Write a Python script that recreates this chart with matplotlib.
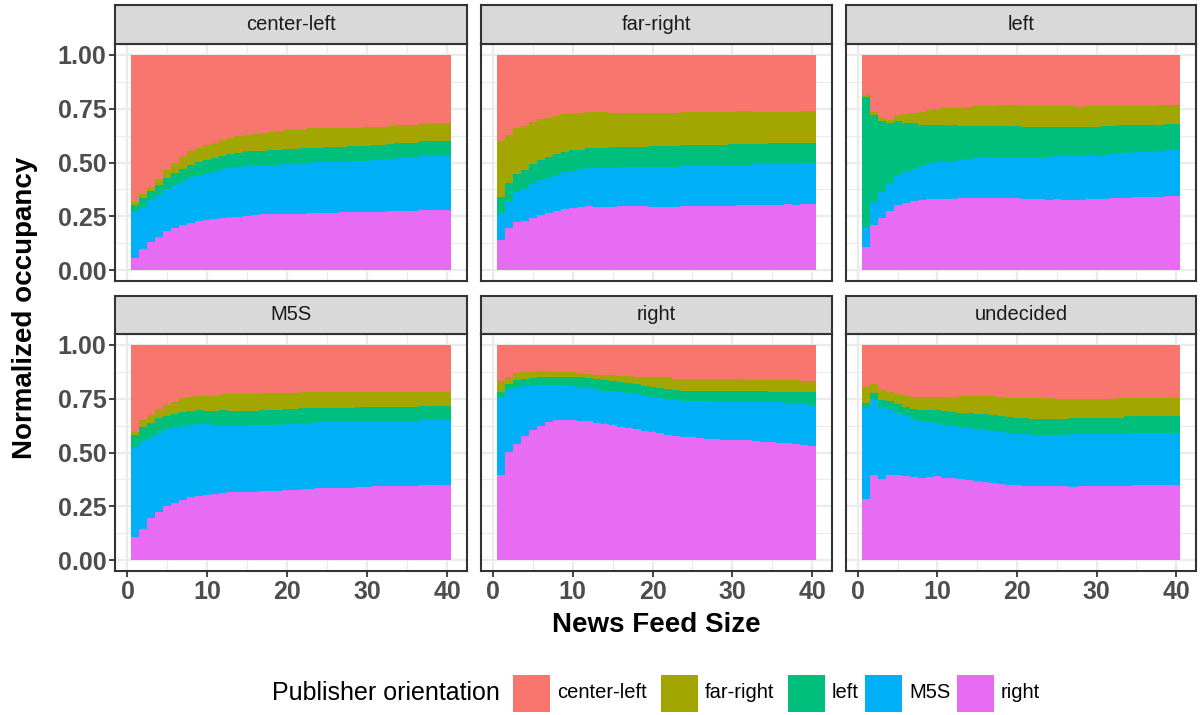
import numpy as np
import matplotlib
matplotlib.use('Agg')
import matplotlib.pyplot as plt
from matplotlib.patches import Rectangle
from matplotlib.ticker import MultipleLocator

plt.rcParams['font.family'] = ['Liberation Sans', 'DejaVu Sans']

# news feed size 1..40
feed_size = list(range(1, 41))
panels = ['center-left', 'far-right', 'left', 'M5S', 'right', 'undecided']
orientations = ['center-left', 'far-right', 'left', 'M5S', 'right']
colors = ['#F8766D', '#A3A500', '#00BF7D', '#00B0F6', '#E76BF3']

# --- center-left users
cl_right = [0.059,0.100,0.133,0.156,0.184,0.198,0.212,0.221,0.230,0.235,0.240,0.244,0.249,0.249,0.253,0.258,0.259,0.259,0.259,0.263,0.263,0.263,0.267,0.267,0.267,0.267,0.272,0.272,0.272,0.272,0.272,0.272,0.277,0.277,0.277,0.277,0.281,0.281,0.281,0.281]
cl_m5s = [0.213,0.194,0.195,0.195,0.195,0.199,0.204,0.210,0.214,0.218,0.222,0.227,0.227,0.232,0.232,0.230,0.231,0.231,0.231,0.232,0.232,0.235,0.231,0.237,0.237,0.237,0.232,0.235,0.235,0.235,0.241,0.241,0.239,0.245,0.245,0.245,0.251,0.251,0.251,0.251]
cl_left = [0.031,0.043,0.041,0.046,0.051,0.056,0.055,0.059,0.060,0.060,0.060,0.061,0.065,0.063,0.068,0.065,0.063,0.068,0.068,0.068,0.068,0.071,0.071,0.065,0.068,0.068,0.068,0.071,0.071,0.071,0.070,0.070,0.071,0.068,0.068,0.068,0.069,0.069,0.069,0.069]
cl_farright = [0.015,0.018,0.019,0.028,0.037,0.045,0.054,0.063,0.065,0.068,0.068,0.074,0.074,0.079,0.075,0.079,0.084,0.083,0.088,0.086,0.089,0.083,0.091,0.091,0.088,0.088,0.088,0.082,0.082,0.087,0.082,0.082,0.082,0.084,0.084,0.084,0.082,0.082,0.082,0.082]
cl_centerleft = [0.682,0.645,0.612,0.575,0.533,0.502,0.475,0.447,0.431,0.419,0.410,0.394,0.385,0.377,0.372,0.368,0.363,0.359,0.354,0.351,0.348,0.348,0.340,0.340,0.340,0.340,0.340,0.340,0.340,0.335,0.335,0.335,0.331,0.326,0.326,0.326,0.317,0.317,0.317,0.317]

# --- far-right users
fr_right = [0.138,0.198,0.226,0.230,0.244,0.258,0.267,0.277,0.286,0.291,0.295,0.300,0.295,0.295,0.295,0.300,0.300,0.300,0.300,0.295,0.295,0.295,0.295,0.300,0.300,0.300,0.300,0.300,0.300,0.300,0.304,0.304,0.304,0.304,0.304,0.304,0.309,0.304,0.309,0.309]
fr_m5s = [0.129,0.125,0.139,0.149,0.158,0.162,0.163,0.167,0.171,0.171,0.176,0.176,0.181,0.181,0.181,0.181,0.181,0.179,0.179,0.184,0.184,0.184,0.184,0.185,0.185,0.185,0.185,0.185,0.185,0.188,0.184,0.184,0.191,0.191,0.191,0.191,0.186,0.191,0.189,0.189]
fr_left = [0.075,0.083,0.083,0.088,0.093,0.093,0.097,0.097,0.093,0.098,0.089,0.093,0.093,0.093,0.096,0.091,0.091,0.093,0.093,0.099,0.099,0.099,0.099,0.096,0.096,0.096,0.096,0.096,0.096,0.099,0.099,0.099,0.092,0.092,0.095,0.095,0.095,0.095,0.092,0.092]
fr_farright = [0.256,0.223,0.214,0.204,0.194,0.189,0.181,0.176,0.176,0.166,0.171,0.167,0.167,0.167,0.159,0.159,0.159,0.159,0.159,0.153,0.153,0.153,0.153,0.155,0.155,0.155,0.155,0.155,0.155,0.149,0.153,0.153,0.149,0.149,0.146,0.146,0.146,0.146,0.150,0.150]
fr_centerleft = [0.402,0.371,0.338,0.329,0.311,0.298,0.292,0.283,0.274,0.274,0.269,0.264,0.264,0.264,0.269,0.269,0.269,0.269,0.269,0.269,0.269,0.269,0.269,0.264,0.264,0.264,0.264,0.264,0.264,0.264,0.260,0.260,0.264,0.264,0.264,0.264,0.264,0.264,0.260,0.260]

# --- left users
lf_right = [0.110,0.209,0.244,0.277,0.304,0.314,0.323,0.328,0.332,0.332,0.332,0.332,0.337,0.337,0.337,0.337,0.337,0.337,0.337,0.337,0.332,0.332,0.332,0.328,0.332,0.328,0.328,0.328,0.332,0.332,0.332,0.337,0.337,0.337,0.342,0.342,0.342,0.342,0.346,0.346]
lf_m5s = [0.089,0.109,0.121,0.129,0.140,0.143,0.148,0.157,0.167,0.172,0.172,0.172,0.176,0.181,0.185,0.190,0.190,0.190,0.190,0.190,0.195,0.195,0.195,0.199,0.200,0.204,0.204,0.204,0.200,0.200,0.204,0.204,0.207,0.207,0.208,0.208,0.208,0.213,0.214,0.214]
lf_left = [0.605,0.404,0.329,0.277,0.250,0.228,0.211,0.190,0.176,0.171,0.171,0.171,0.158,0.153,0.149,0.144,0.144,0.144,0.144,0.144,0.139,0.139,0.139,0.139,0.134,0.134,0.134,0.134,0.134,0.134,0.135,0.130,0.131,0.131,0.125,0.125,0.125,0.120,0.120,0.120]
lf_farright = [0.011,0.014,0.014,0.016,0.028,0.041,0.049,0.061,0.070,0.075,0.079,0.079,0.083,0.088,0.093,0.093,0.093,0.097,0.097,0.097,0.098,0.098,0.098,0.098,0.098,0.098,0.098,0.093,0.098,0.098,0.093,0.093,0.089,0.089,0.089,0.089,0.089,0.093,0.088,0.088]
lf_centerleft = [0.185,0.264,0.292,0.301,0.278,0.274,0.269,0.264,0.255,0.250,0.246,0.246,0.246,0.241,0.236,0.236,0.236,0.232,0.232,0.232,0.236,0.236,0.236,0.236,0.236,0.236,0.236,0.241,0.236,0.236,0.236,0.236,0.236,0.236,0.236,0.236,0.236,0.232,0.232,0.232]

# --- M5S users
m5_right = [0.107,0.144,0.195,0.223,0.251,0.265,0.279,0.293,0.298,0.302,0.307,0.312,0.316,0.316,0.316,0.316,0.321,0.321,0.321,0.326,0.326,0.330,0.330,0.335,0.335,0.335,0.335,0.335,0.340,0.340,0.344,0.344,0.344,0.344,0.344,0.344,0.349,0.349,0.349,0.349]
m5_m5s = [0.419,0.409,0.377,0.368,0.358,0.351,0.344,0.335,0.335,0.328,0.316,0.311,0.307,0.307,0.312,0.312,0.307,0.307,0.307,0.305,0.305,0.306,0.306,0.307,0.307,0.307,0.307,0.307,0.302,0.302,0.298,0.298,0.298,0.298,0.298,0.298,0.302,0.302,0.302,0.302]
m5_left = [0.055,0.066,0.065,0.069,0.061,0.063,0.065,0.065,0.065,0.063,0.070,0.075,0.070,0.070,0.065,0.065,0.070,0.070,0.070,0.071,0.071,0.071,0.071,0.065,0.065,0.065,0.065,0.065,0.070,0.070,0.070,0.070,0.070,0.070,0.070,0.070,0.065,0.065,0.065,0.065]
m5_farright = [0.014,0.032,0.037,0.042,0.051,0.056,0.065,0.064,0.065,0.070,0.070,0.074,0.079,0.079,0.079,0.079,0.077,0.077,0.077,0.073,0.073,0.074,0.074,0.074,0.074,0.074,0.074,0.074,0.069,0.069,0.069,0.069,0.069,0.069,0.069,0.069,0.065,0.065,0.065,0.065]
m5_centerleft = [0.405,0.349,0.326,0.298,0.279,0.265,0.247,0.243,0.237,0.237,0.237,0.228,0.228,0.228,0.228,0.228,0.225,0.225,0.225,0.225,0.225,0.219,0.219,0.219,0.219,0.219,0.219,0.219,0.219,0.219,0.219,0.219,0.219,0.219,0.219,0.219,0.219,0.219,0.219,0.219]

# --- right users
rt_right = [0.395,0.502,0.540,0.577,0.605,0.623,0.642,0.651,0.651,0.651,0.647,0.647,0.637,0.633,0.628,0.619,0.614,0.609,0.600,0.595,0.591,0.581,0.577,0.572,0.570,0.567,0.563,0.563,0.558,0.558,0.558,0.558,0.553,0.549,0.549,0.544,0.544,0.540,0.535,0.530]
rt_m5s = [0.358,0.289,0.260,0.232,0.209,0.191,0.172,0.163,0.163,0.158,0.158,0.153,0.158,0.153,0.158,0.162,0.163,0.163,0.163,0.163,0.162,0.168,0.167,0.168,0.170,0.170,0.174,0.172,0.177,0.177,0.177,0.177,0.182,0.186,0.186,0.191,0.186,0.186,0.191,0.191]
rt_left = [0.028,0.028,0.037,0.033,0.033,0.037,0.037,0.037,0.037,0.042,0.046,0.047,0.047,0.051,0.047,0.047,0.046,0.047,0.046,0.047,0.047,0.046,0.047,0.046,0.046,0.049,0.049,0.051,0.051,0.051,0.051,0.051,0.051,0.051,0.046,0.046,0.051,0.055,0.055,0.060]
rt_farright = [0.052,0.032,0.033,0.032,0.027,0.028,0.028,0.023,0.023,0.023,0.019,0.018,0.018,0.023,0.025,0.028,0.033,0.032,0.042,0.046,0.051,0.054,0.051,0.056,0.056,0.056,0.056,0.056,0.056,0.056,0.056,0.051,0.051,0.051,0.056,0.056,0.056,0.056,0.052,0.052]
rt_centerleft = [0.167,0.149,0.130,0.126,0.126,0.121,0.121,0.126,0.126,0.126,0.130,0.135,0.140,0.140,0.142,0.144,0.144,0.149,0.149,0.149,0.149,0.151,0.158,0.158,0.158,0.158,0.158,0.158,0.158,0.158,0.158,0.163,0.163,0.163,0.163,0.163,0.163,0.163,0.167,0.167]

# --- undecided users
ud_right = [0.284,0.395,0.377,0.395,0.395,0.391,0.386,0.381,0.386,0.391,0.381,0.381,0.377,0.372,0.367,0.363,0.358,0.353,0.349,0.349,0.344,0.344,0.344,0.344,0.344,0.344,0.340,0.344,0.344,0.344,0.344,0.344,0.344,0.344,0.349,0.349,0.349,0.349,0.349,0.349]
ud_m5s = [0.423,0.354,0.335,0.307,0.289,0.279,0.270,0.266,0.256,0.246,0.247,0.242,0.242,0.242,0.242,0.242,0.242,0.242,0.242,0.237,0.242,0.237,0.237,0.237,0.237,0.237,0.246,0.242,0.242,0.242,0.242,0.242,0.242,0.245,0.240,0.240,0.240,0.240,0.240,0.240]
ud_left = [0.023,0.028,0.032,0.038,0.042,0.042,0.046,0.051,0.056,0.061,0.065,0.065,0.065,0.070,0.070,0.074,0.074,0.075,0.074,0.074,0.074,0.075,0.075,0.075,0.075,0.075,0.074,0.074,0.074,0.074,0.074,0.074,0.074,0.081,0.081,0.081,0.081,0.081,0.081,0.081]
ud_farright = [0.075,0.042,0.047,0.041,0.046,0.051,0.056,0.060,0.060,0.060,0.065,0.070,0.079,0.079,0.084,0.084,0.089,0.088,0.088,0.093,0.093,0.097,0.097,0.097,0.093,0.093,0.089,0.089,0.089,0.089,0.089,0.089,0.093,0.083,0.083,0.083,0.083,0.083,0.083,0.083]
ud_centerleft = [0.195,0.181,0.209,0.219,0.228,0.237,0.242,0.242,0.242,0.242,0.242,0.242,0.237,0.237,0.237,0.237,0.237,0.242,0.247,0.247,0.247,0.247,0.247,0.247,0.251,0.251,0.251,0.251,0.251,0.251,0.251,0.251,0.247,0.247,0.247,0.247,0.247,0.247,0.247,0.247]

# stacking order bottom -> top: right, M5S, left, far-right, center-left
panel_data = {
    'center-left': [cl_right, cl_m5s, cl_left, cl_farright, cl_centerleft],
    'far-right': [fr_right, fr_m5s, fr_left, fr_farright, fr_centerleft],
    'left': [lf_right, lf_m5s, lf_left, lf_farright, lf_centerleft],
    'M5S': [m5_right, m5_m5s, m5_left, m5_farright, m5_centerleft],
    'right': [rt_right, rt_m5s, rt_left, rt_farright, rt_centerleft],
    'undecided': [ud_right, ud_m5s, ud_left, ud_farright, ud_centerleft],
}
stack_colors = colors[::-1]

W, H = 1201, 715
fig = plt.figure(figsize=(W / 100, H / 100), dpi=100)
fig.patch.set_facecolor('white')

def px_axes(x0, y0, x1, y1):
    return fig.add_axes([x0 / W, 1 - y1 / H, (x1 - x0) / W, (y1 - y0) / H])

cols = [(115.5, 467), (481, 832), (846, 1196)]
rows = [(5, 44, 281), (296, 334, 571)]
dark = '#333333'

for i, name in enumerate(panels):
    r, c = divmod(i, 3)
    x0, x1 = cols[c]
    stop, ptop, pbot = rows[r]

    ax = px_axes(x0, ptop, x1, pbot)
    bottom = np.zeros(len(feed_size))
    for vals, col in zip(panel_data[name], stack_colors):
        ax.bar(feed_size, vals, width=1.0, bottom=bottom, color=col,
               linewidth=0, zorder=2)
        bottom = bottom + np.array(vals)
    ax.set_xlim(-1.5, 42.5)
    ax.set_ylim(-0.05, 1.05)
    ax.xaxis.set_major_locator(MultipleLocator(10))
    ax.xaxis.set_minor_locator(MultipleLocator(5))
    ax.yaxis.set_major_locator(MultipleLocator(0.25))
    ax.yaxis.set_minor_locator(MultipleLocator(0.125))
    ax.grid(which='major', color='#EBEBEB', linewidth=1.6, zorder=0)
    ax.grid(which='minor', color='#EBEBEB', linewidth=0.8, zorder=0)
    ax.set_axisbelow(True)
    for sp in ax.spines.values():
        sp.set_color(dark)
        sp.set_linewidth(1.5)
    ax.tick_params(which='major', length=4.5, width=1.3, color=dark,
                   labelsize=18, labelcolor='#4D4D4D', pad=2)
    ax.tick_params(which='minor', length=0)
    ax.yaxis.set_major_formatter(matplotlib.ticker.FormatStrFormatter('%.2f'))
    # inner axes carry no ticks, as in facet_wrap
    if c != 0:
        ax.tick_params(axis='y', which='both', left=False, labelleft=False)
    if r != 1:
        ax.tick_params(axis='x', which='both', bottom=False, labelbottom=False)
    for lab in ax.get_xticklabels() + ax.get_yticklabels():
        lab.set_fontweight('bold')

    sax = px_axes(x0, stop, x1, ptop)
    sax.set_facecolor('#D9D9D9')
    sax.set_xticks([])
    sax.set_yticks([])
    for sp in sax.spines.values():
        sp.set_color(dark)
        sp.set_linewidth(1.5)
    sax.text(0.5, 0.5, name, ha='center', va='center', fontsize=14.5,
             color='#1A1A1A', transform=sax.transAxes)

fig.text(25 / W, 1 - 307.5 / H, 'Normalized occupancy', rotation=90,
         ha='center', va='center', fontsize=20, fontweight='bold')
fig.text(656 / W, 1 - 625 / H, 'News Feed Size', ha='center', va='center',
         fontsize=20, fontweight='bold')

# legend along the bottom
leg_y = 693
fig.text(272 / W, 1 - leg_y / H, 'Publisher orientation', ha='left',
         va='center', fontsize=18)
key_x = [513, 661, 788, 865, 957]
for kx, lab, col in zip(key_x, orientations, colors):
    fig.add_artist(Rectangle((kx / W, 1 - (leg_y + 18.5) / H), 37 / W, 37 / H,
                             transform=fig.transFigure, facecolor=col,
                             edgecolor='none'))
    fig.text((kx + 44) / W, 1 - leg_y / H, lab, ha='left', va='center',
             fontsize=14.5)

fig.savefig('out.png', dpi=100)
